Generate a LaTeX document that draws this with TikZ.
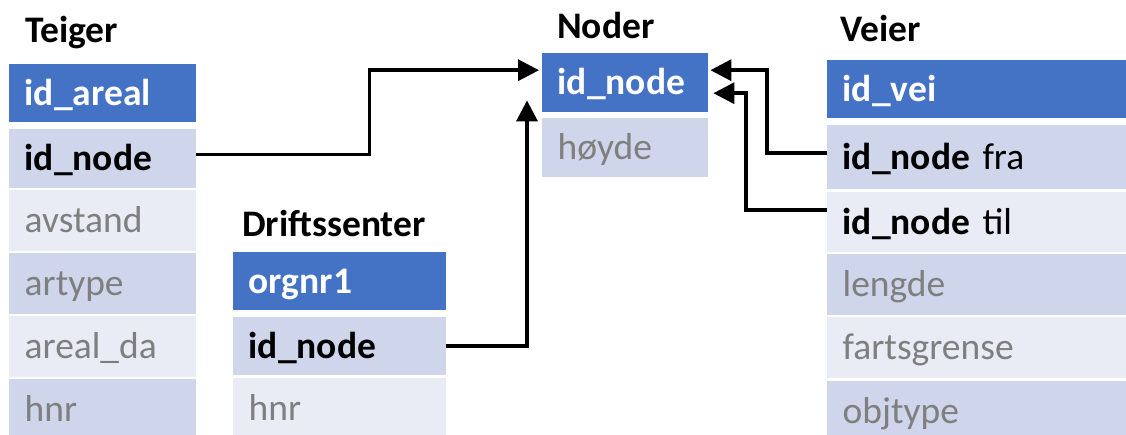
\documentclass[tikz,border=0pt]{standalone}
\usepackage{fontspec}
\setmainfont{Carlito}
\usetikzlibrary{arrows.meta}
\definecolor{hdrblue}{HTML}{4472C4}
\definecolor{rowdark}{HTML}{CFD5EA}
\definecolor{rowlight}{HTML}{E9EBF5}
\definecolor{attrgray}{HTML}{7F7F7F}
\newcommand\tabfont{\fontsize{37.5}{45}\selectfont}
\tikzset{
  cell/.style={anchor=north west, inner xsep=15.5pt, inner ysep=0pt,
    text height=32pt, text depth=8pt, align=left, font=\tabfont},
  hdr/.style={cell, fill=hdrblue, text=white, font=\tabfont\bfseries},
  keyrow/.style={cell, text=black},
  attr/.style={cell, text=attrgray},
  dark/.style={fill=rowdark},
  light/.style={fill=rowlight},
  title/.style={anchor=base west, inner sep=0pt, font=\tabfont\bfseries},
  link/.style={line width=3.5pt, -{Triangle[length=21pt,width=21pt]}},
}
\begin{document}
\begin{tikzpicture}[x=1pt,y=-1pt]
\clip (0,0) rectangle (1126,435);
\fill[white] (0,0) rectangle (1126,435);

% Teiger
\node[title] (tt) at (25,43) {Teiger};
\node[hdr, text width=156pt, minimum height=58pt] (t1) at (9,64) {id\_areal};
\node[keyrow, dark, text width=156pt, minimum height=59pt] (t2) at (9,129) {\textbf{id\_node}};
\node[attr, light, text width=156pt, minimum height=61pt] (t3) at (9,190) {avstand};
\node[attr, dark, text width=156pt, minimum height=61pt] (t4) at (9,253) {artype};
\node[attr, light, text width=156pt, minimum height=61pt] (t5) at (9,316) {areal\_da};
\node[attr, dark, text width=156pt, minimum height=61pt] (t6) at (9,379) {hnr};

% Noder
\node[title] (nt) at (557,39) {Noder};
\node[hdr, text width=135pt, minimum height=59pt] (n1) at (542,53) {id\_node};
\node[attr, dark, text width=135pt, minimum height=59pt] (n2) at (542,118) {høyde};

% Driftssenter
\node[title] (dt) at (242,237) {Driftssenter};
\node[hdr, text width=182pt, minimum height=58pt] (d1) at (233,252) {orgnr1};
\node[keyrow, dark, text width=182pt, minimum height=58pt] (d2) at (233,317) {\textbf{id\_node}};
\node[attr, light, text width=182pt, minimum height=60pt] (d3) at (233,378) {hnr};

% Veier
\node[title] (vt) at (840,42) {Veier};
\node[hdr, text width=300pt, minimum height=58pt] (v1) at (827,60) {id\_vei};
\node[keyrow, dark, text width=300pt, minimum height=64pt] (v2) at (827,125) {\textbf{id\_node} fra};
\node[keyrow, light, text width=300pt, minimum height=60pt] (v3) at (827,192) {\textbf{id\_node} til};
\node[attr, dark, text width=300pt, minimum height=61pt] (v4) at (827,254) {lengde};
\node[attr, light, text width=300pt, minimum height=61pt] (v5) at (827,317) {fartsgrense};
\node[attr, dark, text width=300pt, minimum height=61pt] (v6) at (827,381) {objtype};

% foreign keys pointing at Noder.id_node
\draw[link, shorten >=3pt] ([yshift=4pt]t2.east) -- ++(173,0) |- ([yshift=12.5pt]n1.west);
\draw[link] (d2.east) -| ([xshift=-15pt,yshift=12pt]n1.south west);
\draw[link] ([yshift=4pt]v2.west) -- ++(-60,0) |- ([yshift=12.5pt,xshift=2pt]n1.east);
\draw[link, shorten >=5pt] ([yshift=12pt]v3.west) -- ++(-81,0) |- ([yshift=-10.5pt]n1.east);
\end{tikzpicture}
\end{document}
